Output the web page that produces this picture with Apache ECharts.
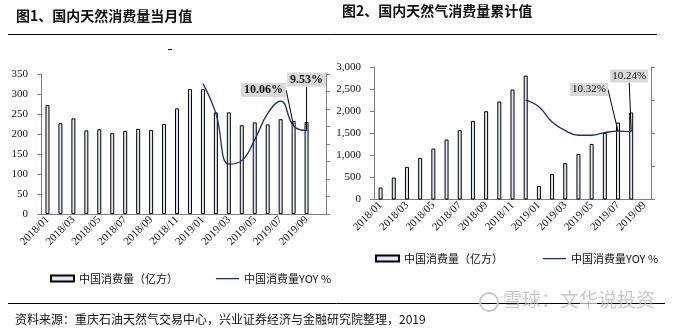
<!DOCTYPE html>
<html><head><meta charset="utf-8">
<script src="https://cdn.jsdelivr.net/npm/echarts@6/dist/echarts.min.js"></script>
<style>html,body{margin:0;padding:0;background:#fff}#c{width:673px;height:328px}</style>
</head><body><div id="c"></div>
<script>
// ---- data ----
const months1 = ['2018/01','2018/02','2018/03','2018/04','2018/05','2018/06','2018/07','2018/08','2018/09','2018/10','2018/11','2018/12',
                 '2019/01','2019/02','2019/03','2019/04','2019/05','2019/06','2019/07','2019/08','2019/09','2019/10'];
const months2 = months1.slice(0, 21);
const monthly = [272,227,239,209,212,202,208,213,210,225,264,312,312,254,254,222,229,224,237,233,230,null];
const monthlyYoy = [null,null,null,null,null,null,null,null,null,null,null,null,14.9,11.5,5.7,6.1,8.5,11.5,12.9,10.06,9.53,null];
const cumulative = [272,498,738,942,1155,1358,1569,1780,1999,2219,2490,2807,308,573,822,1032,1259,1508,1743,1970,null];
const cumulativeYoy = [null,null,null,null,null,null,null,null,null,null,null,15.0,14.0,11.7,10.4,9.7,9.7,10.1,10.32,10.24,null];
const labelled1 = [19, 20];
const labelled2 = [18, 19];
const barName = '中国消费量（亿方）';
const lineName = '中国消费量YOY %';

// ---- chart ----
const serif = 'Liberation Serif';
const cjk = 'Noto Sans CJK SC';
const axisGray = '#808080';
const lineColor = '#1f2d6e';
const lineIcon = 'path://M0,0h0.01v0.01h-0.01z M0,2.4h23v1.3h-23z M0,5.99h0.01v0.01h-0.01z';

function lineData(arr, marked) {
  return arr.map((v, i) => marked.indexOf(i) >= 0
    ? {value: v, symbol: 'circle', symbolSize: 0.1, label: {show: true}}
    : v);
}
const labelShift = {
  '1-19': [-30, -24], '1-20': [0, -39],
  '3-18': [-29, -30], '3-19': [-2, -44]
};

function catAxis(grid, data) {
  return {
    gridIndex: grid, type: 'category', data: data, boundaryGap: true,
    axisLine: {lineStyle: {color: axisGray}},
    axisTick: {interval: 1, length: 4, lineStyle: {color: axisGray}},
    axisLabel: {interval: 1, rotate: 45, fontFamily: serif, fontSize: 11, color: '#111', margin: 4}
  };
}
function valAxis(grid, min, max, step, pos, showLabel, fmt) {
  return {
    gridIndex: grid, type: 'value', position: pos, min: min, max: max, interval: step,
    splitLine: {show: false},
    axisLine: {show: true, lineStyle: {color: axisGray}},
    axisTick: {show: true, length: 4, lineStyle: {color: axisGray}},
    axisLabel: {show: showLabel, fontFamily: serif, fontSize: 11, color: '#111', margin: 13, formatter: fmt}
  };
}
const barStyle = {color: '#dfe8f3', borderColor: '#000', borderWidth: 1};
function legendFor(left, top, gap) {
  return {left: left, top: top, itemWidth: 23, itemHeight: 6, itemGap: gap,
    data: [{name: barName, icon: 'rect'}, {name: lineName, icon: lineIcon, itemStyle: {color: lineColor, borderWidth: 0}}],
    textStyle: {fontFamily: cjk, fontSize: 11, color: '#111'}, selectedMode: false};
}

const chart = echarts.init(document.getElementById('c'), null, {renderer: 'canvas'});
chart.setOption({
  animation: false,
  backgroundColor: '#fff',
  grid: [
    {left: 41, top: 74, width: 285, height: 140},
    {left: 374, top: 67, width: 277, height: 132.5}
  ],
  xAxis: [catAxis(0, months1), catAxis(1, months2)],
  yAxis: [
    valAxis(0, 0, 350, 50, 'left', true),
    valAxis(0, 0, 16, 2, 'right', false),
    valAxis(1, 0, 3000, 500, 'left', true, v => v.toLocaleString('en-US')),
    valAxis(1, 0, 20, 5, 'right', false)
  ],
  legend: [legendFor(45, 268, 38), legendFor(370, 248, 40)],
  series: [
    {type: 'bar', name: barName, xAxisIndex: 0, yAxisIndex: 0, data: monthly, barWidth: 4, itemStyle: barStyle},
    {type: 'line', name: lineName, xAxisIndex: 0, yAxisIndex: 1, data: lineData(monthlyYoy, labelled1),
     smooth: 0.45, symbol: 'none', color: lineColor, lineStyle: {color: lineColor, width: 1.3}, z: 5,
     label: {position: 'top', distance: 5, fontFamily: serif, fontWeight: 'bold', fontSize: 12, lineHeight: 12,
             color: '#111', backgroundColor: '#d9d9d9', padding: [1, 3],
             formatter: p => p.value.toFixed(2) + '%'},
     labelLine: {show: true, lineStyle: {color: '#000', width: 1}},
     labelLayout: p => { const s = labelShift[p.seriesIndex + '-' + p.dataIndex]; return s ? {dx: s[0], dy: s[1]} : {}; }},
    {type: 'bar', name: barName, xAxisIndex: 1, yAxisIndex: 2, data: cumulative, barWidth: 4, itemStyle: barStyle},
    {type: 'line', name: lineName, xAxisIndex: 1, yAxisIndex: 3, data: lineData(cumulativeYoy, labelled2),
     smooth: 0.45, symbol: 'none', color: lineColor, lineStyle: {color: lineColor, width: 1.3}, z: 5,
     label: {position: 'top', distance: 5, fontFamily: serif, fontSize: 11, lineHeight: 11,
             color: '#111', backgroundColor: '#d9d9d9', padding: [1, 2],
             formatter: p => p.value.toFixed(2) + '%'},
     labelLine: {show: true, lineStyle: {color: '#000', width: 1}},
     labelLayout: p => { const s = labelShift[p.seriesIndex + '-' + p.dataIndex]; return s ? {dx: s[0], dy: s[1]} : {}; }}
  ],
  graphic: [
    {type: 'text', left: 16, top: 9, style: {text: '图1、国内天然消费量当月值', fontFamily: cjk, fontWeight: 'bold', fontSize: 14, fill: '#111'}},
    {type: 'text', left: 342, top: 4, style: {text: '图2、国内天然气消费量累计值', fontFamily: cjk, fontWeight: 'bold', fontSize: 14, fill: '#111'}},
    {type: 'line', shape: {x1: 8, y1: 34.5, x2: 657, y2: 34.5}, style: {stroke: '#000', lineWidth: 1}},
    {type: 'line', shape: {x1: 168, y1: 49.5, x2: 172, y2: 49.5}, style: {stroke: '#000', lineWidth: 1}},
    {type: 'line', shape: {x1: 8, y1: 303.5, x2: 665, y2: 303.5}, style: {stroke: '#000', lineWidth: 1}},
    {type: 'text', left: 15, top: 313, style: {text: '资料来源：重庆石油天然气交易中心，兴业证券经济与金融研究院整理，2019', fontFamily: cjk, fontSize: 12, fill: '#111'}},
    {type: 'circle', shape: {cx: 489, cy: 302, r: 9}, style: {fill: 'none', stroke: '#c8c8c8', lineWidth: 2}},
    {type: 'text', left: 503, top: 290, style: {text: '雪球：文华说投资', fontFamily: cjk, fontSize: 19, fill: 'rgba(190,190,190,0.85)'}}
  ]
});
</script>
</body></html>
